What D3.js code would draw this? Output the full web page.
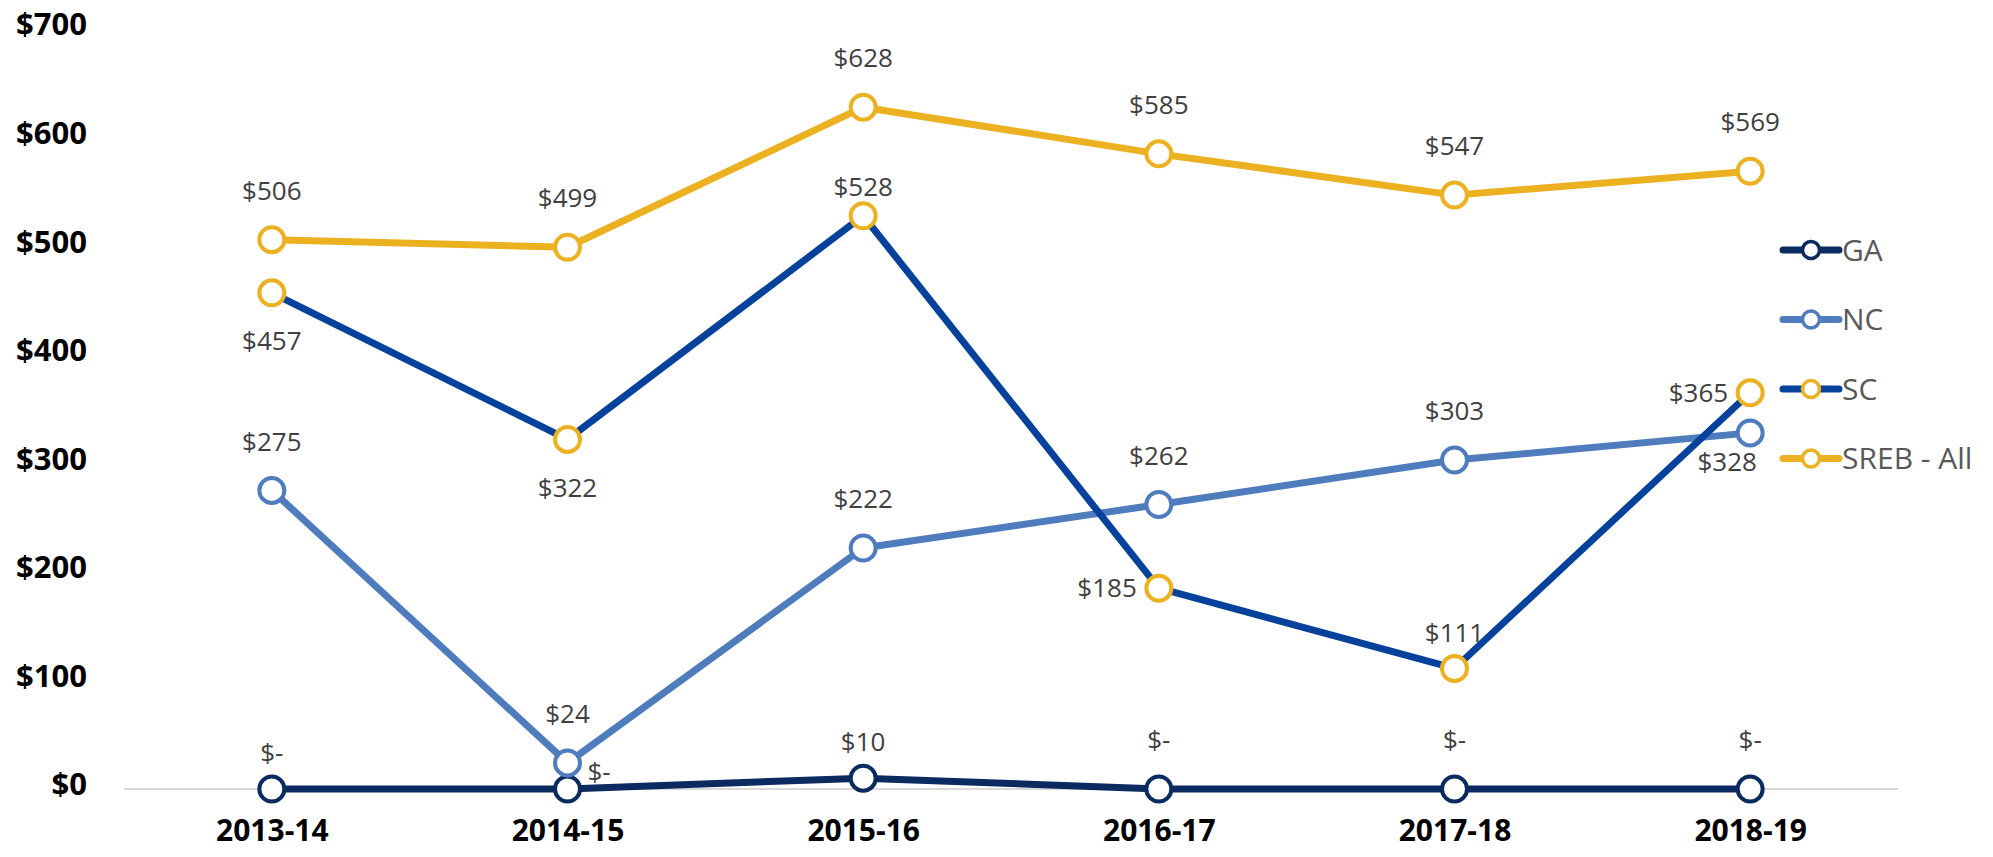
<!DOCTYPE html>
<html>
<head>
<meta charset="utf-8">
<script src="https://cdn.jsdelivr.net/npm/d3@7"></script>
<style>
    body { margin: 0; background: #fff; }
    text { font-family: "Open Sans", "Noto Sans", sans-serif; }
    .y-tick { font-weight: 700; fill: #000; font-size: 31px; }
    .x-tick { font-weight: 700; fill: #000; font-size: 30px; }
    .pt-label { fill: #404040; font-size: 26px; }
    .legend-text { fill: #595959; font-size: 30px; }
</style>
</head>
<body>
<div id="chart"></div>
<script>
// years on the x axis
const years = ['2013-14', '2014-15', '2015-16', '2016-17', '2017-18', '2018-19'];

// one array per series (dollars)
const gaValues = [0, 0, 10, 0, 0, 0];
const ncValues = [275, 24, 222, 262, 303, 328];
const scValues = [457, 322, 528, 185, 111, 365];
const srebValues = [506, 499, 628, 585, 547, 569];

const seriesNames = ['GA', 'NC', 'SC', 'SREB - All'];
const yTicks = [0, 100, 200, 300, 400, 500, 600, 700];

// where each data label sits relative to its point (a = above, an = above near,
// ac = above close, b = below, bl = below-left, l = left, r = right)
const gaLabelPos = ['an', 'r', 'an', 'a', 'a', 'a'];
const ncLabelPos = ['a', 'a', 'a', 'a', 'a', 'bl'];
const scLabelPos = ['b', 'b', 'ac', 'l', 'an', 'l'];
const srebLabelPos = ['a', 'a', 'a', 'a', 'a', 'a'];

const series = [
    { name: seriesNames[0], values: gaValues, pos: gaLabelPos, line: '#0b2a5f', marker: '#0b2a5f' },
    { name: seriesNames[1], values: ncValues, pos: ncLabelPos, line: '#4f7cbc', marker: '#4f7cbc' },
    // excel quirk: the SC markers carry the gold outline
    { name: seriesNames[2], values: scValues, pos: scLabelPos, line: '#06419b', marker: '#ecb121' },
    { name: seriesNames[3], values: srebValues, pos: srebLabelPos, line: '#ecb121', marker: '#ecb121' }
];

const W = 1993, H = 857;
const margin = { top: 29, right: 95, bottom: 68, left: 124 };

const svg = d3.select('#chart').append('svg')
    .attr('width', W)
    .attr('height', H);

const x = d3.scalePoint()
    .domain(years)
    .range([margin.left, W - margin.right])
    .padding(0.5);

const y = d3.scaleLinear()
    .domain([0, 700])
    .range([H - margin.bottom, margin.top]);

// baseline gridline
svg.append('line')
    .attr('x1', margin.left)
    .attr('x2', W - margin.right)
    .attr('y1', y(0))
    .attr('y2', y(0))
    .attr('stroke', '#d9d9d9')
    .attr('stroke-width', 2);

// y axis labels
const yAxis = d3.axisLeft(y)
    .tickValues(yTicks)
    .tickSize(0)
    .tickFormat(d => '$' + d);

svg.append('g')
    .attr('transform', 'translate(87,-4)')
    .call(yAxis)
    .call(g => g.select('.domain').remove())
    .selectAll('text')
    .attr('class', 'y-tick')
    .attr('x', 0)
    .attr('font-size', null)
    .attr('font-family', null);

// x axis labels
const xAxis = d3.axisBottom(x).tickSize(0);
svg.append('g')
    .attr('transform', 'translate(0,' + (y(0) + 41) + ')')
    .call(xAxis)
    .call(g => g.select('.domain').remove())
    .selectAll('text')
    .attr('class', 'x-tick')
    .attr('y', 0)
    .attr('dy', '0.35em')
    .attr('font-size', null)
    .attr('font-family', null);

const line = d3.line()
    .x((d, i) => x(years[i]))
    .y(d => y(d));

const pointR = 12.5;

// lines + markers, series by series
series.forEach(s => {
    const g = svg.append('g').attr('class', 'series');
    g.append('path')
        .datum(s.values)
        .attr('d', line)
        .attr('fill', 'none')
        .attr('stroke', s.line)
        .attr('stroke-width', 7)
        .attr('stroke-linejoin', 'round');

    g.selectAll('circle')
        .data(s.values)
        .enter()
        .append('circle')
        .attr('cx', (d, i) => x(years[i]))
        .attr('cy', d => y(d))
        .attr('r', pointR)
        .attr('fill', '#fff')
        .attr('stroke', s.marker)
        .attr('stroke-width', 4);
});

// label offsets for each placement code
const placement = {
    a:  { dx: 0, dy: -49, anchor: 'middle' },
    an: { dx: 0, dy: -36, anchor: 'middle' },
    ac: { dx: 0, dy: -29, anchor: 'middle' },
    b:  { dx: 0, dy: 48, anchor: 'middle' },
    bl: { dx: -23, dy: 29, anchor: 'middle' },
    l:  { dx: -22, dy: 0, anchor: 'end' },
    r:  { dx: 20, dy: -17, anchor: 'start' }
};

const fmt = v => v === 0 ? '$-' : '$' + d3.format(',')(v);

const labels = svg.append('g').attr('class', 'labels');
series.forEach(s => {
    labels.selectAll(null)
        .data(s.values)
        .enter()
        .append('text')
        .attr('class', 'pt-label')
        .attr('x', (d, i) => x(years[i]) + placement[s.pos[i]].dx)
        .attr('y', (d, i) => y(d) + placement[s.pos[i]].dy)
        .attr('dy', '0.35em')
        .attr('text-anchor', (d, i) => placement[s.pos[i]].anchor)
        .text(d => fmt(d));
});

// legend
const legend = svg.append('g')
    .attr('class', 'legend-group')
    .attr('transform', 'translate(1783,250)');

series.forEach((s, i) => {
    const row = legend.append('g')
        .attr('transform', 'translate(0,' + (i * 69.5) + ')');
    row.append('line')
        .attr('x1', 0)
        .attr('x2', 56)
        .attr('stroke', s.line)
        .attr('stroke-width', 7)
        .attr('stroke-linecap', 'round');
    row.append('circle')
        .attr('cx', 28)
        .attr('r', 8.5)
        .attr('fill', '#fff')
        .attr('stroke', s.marker)
        .attr('stroke-width', 3.5);
    row.append('text')
        .attr('class', 'legend-text')
        .attr('x', 59)
        .attr('dy', '0.35em')
        .text(s.name);
});
</script>
</body>
</html>
